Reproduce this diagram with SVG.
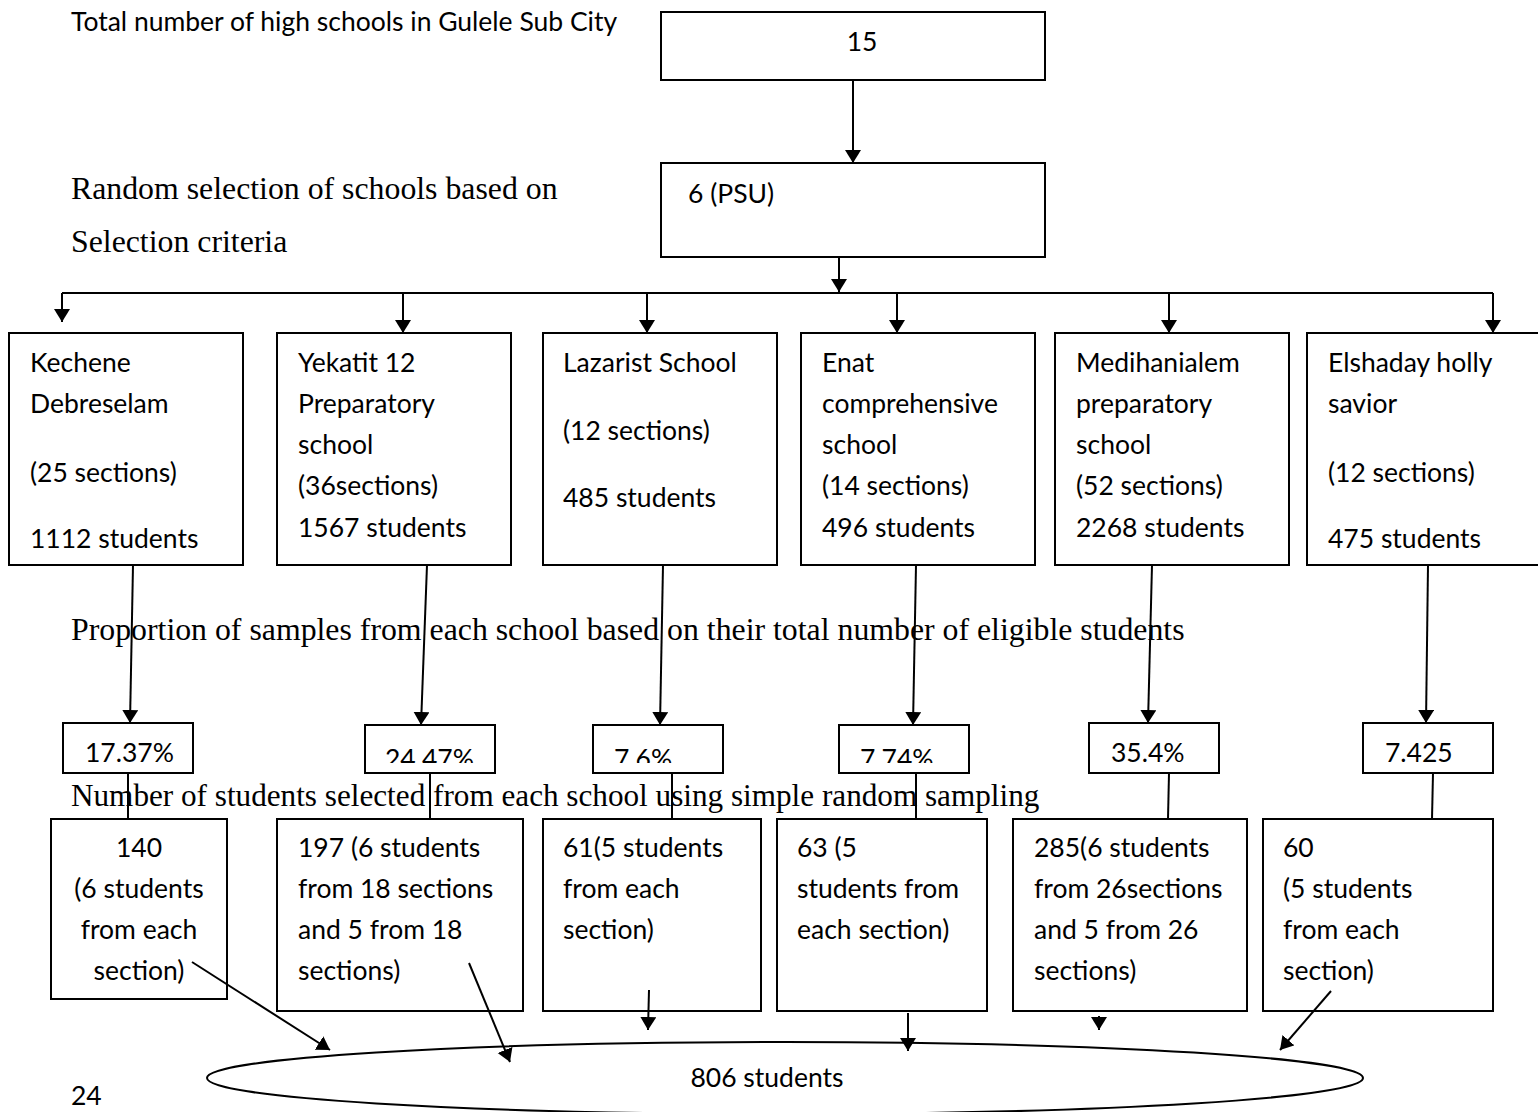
<svg xmlns="http://www.w3.org/2000/svg" width="1538" height="1112" viewBox="0 0 1538 1112">
<style>
.b{fill:#fff;stroke:#000;stroke-width:2}
.t{font-family:Lato,"Liberation Sans",sans-serif;font-size:26.5px;fill:#000}
.s{font-family:"Liberation Serif","Times New Roman",serif;font-size:31.8px;fill:#000}
.c{text-anchor:middle}
.l{fill:none;stroke:#000;stroke-width:2}
.a{fill:none;stroke:#000;stroke-width:2;marker-end:url(#ah)}
</style>
<defs>
<marker id="ah" markerUnits="userSpaceOnUse" markerWidth="18" markerHeight="18" refX="13" refY="8" orient="auto">
<path d="M0,0 L13,8 L0,16 z" fill="#000"/>
</marker>
<clipPath id="cp2"><rect x="365" y="725" width="130" height="38"/></clipPath>
<clipPath id="cp3"><rect x="593" y="725" width="130" height="38"/></clipPath>
<clipPath id="cp4"><rect x="839" y="725" width="130" height="38"/></clipPath>
</defs>
<rect width="1538" height="1112" fill="#fff"/>

<g id="labels">
<text class="t" x="71" y="31">Total number of high schools in Gulele Sub City</text>
<text class="s" x="71" y="199">Random selection of schools based on</text>
<text class="s" x="71" y="252">Selection criteria</text>
<text class="s" x="71" y="640">Proportion of samples from each school based on their total number of eligible students</text>
<text class="t" x="71" y="1105">24</text>
</g>

<g id="connectors">
<path class="a" d="M853,80 V163"/>
<path class="a" d="M839,257 V292"/>
<path class="l" d="M62,293 H1493"/>
<path class="a" d="M62,293 V322"/>
<path class="a" d="M403,293 V333"/>
<path class="a" d="M647,293 V333"/>
<path class="a" d="M897,293 V333"/>
<path class="a" d="M1169,293 V333"/>
<path class="a" d="M1493,293 V333"/>
<path class="a" d="M133,565 L130,723"/>
<path class="a" d="M427,565 L421,725"/>
<path class="a" d="M663,565 L660,725"/>
<path class="a" d="M916,565 L913,725"/>
<path class="a" d="M1152,565 L1148,723"/>
<path class="a" d="M1428,565 L1426,723"/>
<path class="l" d="M128,773 V819"/>
<path class="l" d="M430,773 V819"/>
<path class="l" d="M672,773 V819"/>
<path class="l" d="M916,773 V819"/>
<path class="l" d="M1169,773 L1168,819"/>
<path class="l" d="M1433,773 L1432,819"/>
</g>

<text class="s" x="71" y="806" style="font-size:31.2px">Number of students selected from each school using simple random sampling</text>

<g id="n15"><rect class="b" x="661" y="12" width="384" height="68"/><text class="t c" x="862" y="51">15</text></g>
<g id="psu"><rect class="b" x="661" y="163" width="384" height="94"/><text class="t" x="688" y="203">6 (PSU)</text></g>

<g id="kechene"><rect class="b" x="9" y="333" width="234" height="232"/>
<text class="t" x="30" y="372">Kechene</text><text class="t" x="30" y="413">Debreselam</text><text class="t" x="30" y="482">(25 sections)</text><text class="t" x="30" y="548">1112 students</text></g>
<g id="yekatit"><rect class="b" x="277" y="333" width="234" height="232"/>
<text class="t" x="298" y="372">Yekatit 12</text><text class="t" x="298" y="413">Preparatory</text><text class="t" x="298" y="454">school</text><text class="t" x="298" y="495">(36sections)</text><text class="t" x="298" y="537">1567 students</text></g>
<g id="lazarist"><rect class="b" x="543" y="333" width="234" height="232"/>
<text class="t" x="563" y="372">Lazarist School</text><text class="t" x="563" y="440">(12 sections)</text><text class="t" x="563" y="507">485 students</text></g>
<g id="enat"><rect class="b" x="801" y="333" width="234" height="232"/>
<text class="t" x="822" y="372">Enat</text><text class="t" x="822" y="413">comprehensive</text><text class="t" x="822" y="454">school</text><text class="t" x="822" y="495">(14 sections)</text><text class="t" x="822" y="537">496 students</text></g>
<g id="medihanialem"><rect class="b" x="1055" y="333" width="234" height="232"/>
<text class="t" x="1076" y="372">Medihanialem</text><text class="t" x="1076" y="413">preparatory</text><text class="t" x="1076" y="454">school</text><text class="t" x="1076" y="495">(52 sections)</text><text class="t" x="1076" y="537">2268 students</text></g>
<g id="elshaday"><rect class="b" x="1307" y="333" width="234" height="232"/>
<text class="t" x="1328" y="372">Elshaday holly</text><text class="t" x="1328" y="413">savior</text><text class="t" x="1328" y="482">(12 sections)</text><text class="t" x="1328" y="548">475 students</text></g>

<g id="p1"><rect class="b" x="63" y="723" width="130" height="50"/><text class="t" x="85" y="762">17.37%</text></g>
<g id="p2"><rect class="b" x="365" y="725" width="130" height="48"/><text class="t" x="385" y="768" clip-path="url(#cp2)">24.47%</text></g>
<g id="p3"><rect class="b" x="593" y="725" width="130" height="48"/><text class="t" x="614" y="768" clip-path="url(#cp3)">7.6%</text></g>
<g id="p4"><rect class="b" x="839" y="725" width="130" height="48"/><text class="t" x="860" y="768" clip-path="url(#cp4)">7.74%</text></g>
<g id="p5"><rect class="b" x="1089" y="723" width="130" height="50"/><text class="t" x="1111" y="762">35.4%</text></g>
<g id="p6"><rect class="b" x="1363" y="723" width="130" height="50"/><text class="t" x="1385" y="762">7.425</text></g>

<g id="s1"><rect class="b" x="51" y="819" width="176" height="180"/>
<text class="t c" x="139" y="857">140</text><text class="t c" x="139" y="898">(6 students</text><text class="t c" x="139" y="939">from each</text><text class="t c" x="139" y="980">section)</text></g>
<g id="s2"><rect class="b" x="277" y="819" width="246" height="192"/>
<text class="t" x="298" y="857">197 (6 students</text><text class="t" x="298" y="898">from 18 sections</text><text class="t" x="298" y="939">and 5 from 18</text><text class="t" x="298" y="980">sections)</text></g>
<g id="s3"><rect class="b" x="543" y="819" width="218" height="192"/>
<text class="t" x="563" y="857">61(5 students</text><text class="t" x="563" y="898">from each</text><text class="t" x="563" y="939">section)</text></g>
<g id="s4"><rect class="b" x="777" y="819" width="210" height="192"/>
<text class="t" x="797" y="857">63 (5</text><text class="t" x="797" y="898">students from</text><text class="t" x="797" y="939">each section)</text></g>
<g id="s5"><rect class="b" x="1013" y="819" width="234" height="192"/>
<text class="t" x="1034" y="857">285(6 students</text><text class="t" x="1034" y="898">from 26sections</text><text class="t" x="1034" y="939">and 5 from 26</text><text class="t" x="1034" y="980">sections)</text></g>
<g id="s6"><rect class="b" x="1263" y="819" width="230" height="192"/>
<text class="t" x="1283" y="857">60</text><text class="t" x="1283" y="898">(5 students</text><text class="t" x="1283" y="939">from each</text><text class="t" x="1283" y="980">section)</text></g>

<g id="total"><ellipse cx="785" cy="1078" rx="578" ry="36" fill="#fff" stroke="#000" stroke-width="2"/>
<text class="t c" x="767" y="1087">806 students</text></g>

<g id="connectors2">
<path class="a" d="M192,962 L330,1050"/>
<path class="a" d="M469,963 L510,1062"/>
<path class="a" d="M649,990 L648,1030"/>
<path class="a" d="M908,1013 L908,1051"/>
<path class="a" d="M1099,1016 L1099,1030"/>
<path class="a" d="M1331,991 L1280,1050"/>
</g>
</svg>
